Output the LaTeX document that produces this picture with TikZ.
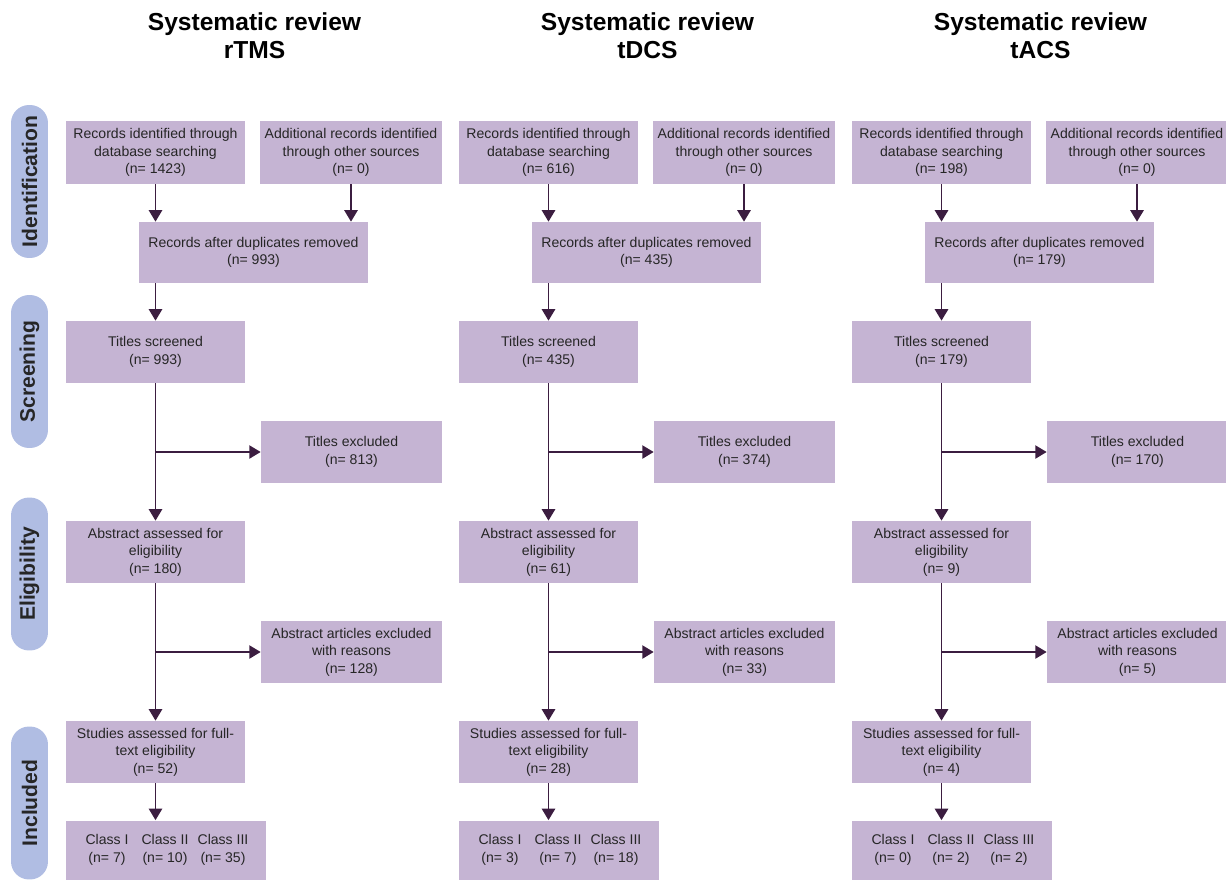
\documentclass[tikz,border=0pt]{standalone}
\usepackage{fontspec}
\setmainfont{Liberation Sans}
\usetikzlibrary{arrows.meta,calc}
\definecolor{lilla}{HTML}{C5B4D3}
\definecolor{azzurro}{HTML}{B0BDE3}
\definecolor{viola}{HTML}{3B1D40}
\tikzset{
  box/.style={fill=lilla, inner sep=0pt, align=center, text=black!85,
    font=\fontsize{8}{10}\selectfont},
  stadio/.style={fill=azzurro, rotate=90, inner sep=0pt, rounded corners=0.36cm,
    minimum width=3.06cm, minimum height=0.74cm, text=black!85,
    font=\bfseries\fontsize{12}{14}\selectfont},
  titolo/.style={align=center, font=\bfseries\fontsize{14}{16}\selectfont},
  etich/.style={align=center, inner sep=0pt, text=black!85,
    font=\fontsize{8}{10}\selectfont},
  freccia/.style={draw=viola, line width=1.1pt, -{Triangle[length=6.5pt,width=7.5pt]}},
}
\begin{document}
\begin{tikzpicture}[x=0.02cm, y=-0.02cm]
  \useasboundingbox (0,0) rectangle (1226,879);
  % Fasi
  \node[stadio] (ident) at (29.5,181.5) {Identification};
  \node[stadio] (scree) at (29.5,371.5) {Screening};
  \node[stadio] (eligi) at (29.5,574) {Eligibility};
  \node[stadio] (inclu) at (29.5,803) {Included};
  % Colonne delle tre revisioni
  \foreach \i/\dx/\nome/\nA/\nB/\nC/\nE/\nF/\nG/\nH/\cI/\cII/\cIII in
    {1/0/rTMS/1423/0/993/813/180/128/52/7/10/35,
     2/393/tDCS/616/0/435/374/61/33/28/3/7/18,
     3/786/tACS/198/0/179/170/9/5/4/0/2/2}{
    \node[titolo] (tit\i) at (254.5+\dx,36) {Systematic review\\\nome};
    % Riquadri
    \node[box, minimum width=3.58cm, minimum height=1.26cm] (db\i) at (155.5+\dx,152.5)
      {Records identified through\\database searching\\(n= \nA)};
    \node[box, minimum width=3.64cm, minimum height=1.26cm] (alt\i) at (351+\dx,152.5)
      {Additional records identified\\through other sources\\(n= \nB)};
    \node[box, minimum width=4.58cm, minimum height=1.22cm] (dup\i) at (253.5+\dx,252.5)
      {Records after duplicates removed\\(n= \nC)};
    \node[box, minimum width=3.58cm, minimum height=1.24cm] (tsc\i) at (155.5+\dx,352)
      {Titles screened\\(n= \nC)};
    \node[box, minimum width=3.62cm, minimum height=1.24cm] (tex\i) at (351.5+\dx,452)
      {Titles excluded\\(n= \nE)};
    \node[box, minimum width=3.58cm, minimum height=1.24cm] (abs\i) at (155.5+\dx,552)
      {Abstract assessed for\\eligibility\\(n= \nF)};
    \node[box, minimum width=3.62cm, minimum height=1.24cm] (aex\i) at (351.5+\dx,652)
      {Abstract articles excluded\\with reasons\\(n= \nG)};
    \node[box, minimum width=3.58cm, minimum height=1.24cm] (ful\i) at (155.5+\dx,752)
      {Studies assessed for full-\\text eligibility\\(n= \nH)};
    \node[box, minimum width=4cm, minimum height=1.18cm] (cls\i) at (166+\dx,850) {};
    \node[etich] (k1\i) at ($(cls\i.center)+(-59,0)$) {Class I\\(n= \cI)};
    \node[etich] (k2\i) at ($(cls\i.center)+(-1,0)$) {Class II\\(n= \cII)};
    \node[etich] (k3\i) at ($(cls\i.center)+(57,0)$) {Class III\\(n= \cIII)};
    % Frecce
    \draw[freccia] (db\i.south) -- (db\i.south |- dup\i.north);
    \draw[freccia] (alt\i.south) -- (alt\i.south |- dup\i.north);
    \draw[freccia] (tsc\i.north |- dup\i.south) -- (tsc\i.north);
    \draw[freccia] (tsc\i.south) -- (abs\i.north);
    \draw[freccia] (tsc\i.south |- tex\i.west) -- (tex\i.west);
    \draw[freccia] (abs\i.south) -- (ful\i.north);
    \draw[freccia] (abs\i.south |- aex\i.west) -- (aex\i.west);
    \draw[freccia] (ful\i.south) -- (ful\i.south |- cls\i.north);
  }
\end{tikzpicture}
\end{document}
